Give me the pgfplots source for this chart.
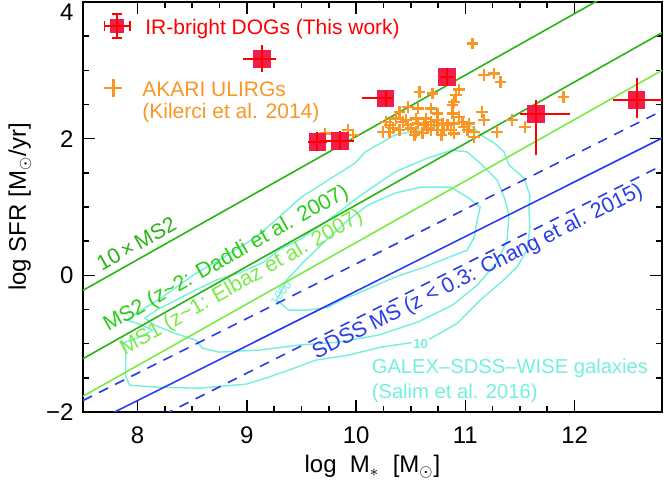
\documentclass[border=0pt]{standalone}
\usepackage{fontspec}
\setmainfont{Liberation Sans}
\usepackage{pgfplots}
\pgfplotsset{compat=1.18}
\usepackage{pgfplotstable}
\usetikzlibrary{calc}

\definecolor{dogfill}{RGB}{240,30,72}
\definecolor{dogerr}{RGB}{255,0,0}
\definecolor{ulirg}{RGB}{250,150,35}
\definecolor{contourc}{RGB}{115,240,220}
\definecolor{msgreen}{RGB}{40,180,20}
\definecolor{mstext}{RGB}{40,205,20}
\definecolor{msone}{RGB}{120,235,70}
\definecolor{sdss}{RGB}{40,60,235}

\pgfplotstableread{
x y exp exm eyp eym
9.14 3.17 0.09 0.14 0.14 0.13
10.27 2.59 0.03 0.18 0.05 0.05
10.83 2.90 0.03 0.03 0.07 0.07
9.645 1.955 0.05 0.05 0.08 0.08
9.85 1.97 0.09 0.14 0.08 0.08
11.647 2.363 0.27 0.11 0.15 0.54
12.568 2.565 0.25 0.18 0.27 0.20
}\dogs

\pgfplotstableread{
x y
10.579 2.687
10.700 2.663
10.943 2.722
10.912 2.638
10.897 2.540
10.882 2.492
10.473 2.467
10.564 2.444
10.397 2.394
10.685 2.444
10.745 2.370
10.882 2.370
10.943 2.321
11.155 2.394
11.170 2.272
10.275 2.247
10.366 2.297
10.457 2.272
10.548 2.297
10.639 2.297
10.685 2.247
10.745 2.272
10.791 2.224
10.473 2.199
10.564 2.224
10.625 2.199
10.715 2.199
10.836 2.199
10.897 2.224
10.973 2.247
11.034 2.224
10.245 2.101
10.306 2.101
10.397 2.126
10.503 2.151
10.548 2.101
10.655 2.151
10.685 2.126
10.745 2.126
10.806 2.126
10.866 2.126
10.897 2.078
10.988 2.174
11.018 2.126
11.079 2.101
10.533 2.053
9.927 2.126
9.973 2.053
9.715 2.078
11.170 2.931
11.261 2.956
11.321 2.833
11.064 3.395
11.897 2.613
11.427 2.272
11.548 2.174
11.291 2.101
11.079 2.028
10.336 2.155
10.609 2.082
10.782 2.053
10.427 2.243
10.309 2.199
}\ulirgs

\newcommand{\lfont}{\fontsize{10.5}{12}\selectfont}
\newcommand{\mfont}{\fontsize{10.7}{12}\selectfont}

\begin{document}
\begin{tikzpicture}
\begin{axis}[
  scale only axis, width=289.5pt, height=205pt,
  at={(0,0)}, anchor=south west,
  clip marker paths=true,
  xmin=7.5, xmax=12.8, ymin=-2, ymax=4,
  xtick={8,9,10,11,12}, ytick={-2,0,2,4},
  yticklabels={−2,0,2,\raisebox{-5pt}[\height][\depth]{4}},
  minor x tick num=3, minor y tick num=3,
  tick align=inside, xtick pos=both, ytick pos=both,
  xticklabel pos=lower, yticklabel pos=left,
  major tick length=6pt, minor tick length=3pt,
  every tick/.style={black, line width=0.8pt},
  axis line style={line width=1pt},
  /pgf/number format/assume math mode=true,
  tick label style={font=\fontsize{12}{14}\selectfont},
  xticklabel style={yshift=-4pt},
  yticklabel style={xshift=-1.2pt},
  label style={font=\fontsize{12}{14}\selectfont},
  xlabel={log\; M\textsubscript{$\ast$}\; [M\textsubscript{$\odot$}]},
  ylabel={log SFR [M\textsubscript{$\odot$}/yr]},
  xlabel style={at={(axis description cs:0.5,-0.134)}, anchor=center},
  ylabel style={at={(axis description cs:-0.109,0.5)}, anchor=center},
  legend style={at={(rel axis cs:0,1)}, anchor=north west, xshift=10pt, yshift=-5.5pt,
    draw=none, fill=none, inner sep=0pt, row sep=0pt, column sep=3.7pt,
    font=\lfont, cells={anchor=base west},
    nodes={inner ysep=0pt}},
]
% contours
\addplot[contourc, line width=0.7pt, forget plot] coordinates {
(7.900,-0.656) (7.991,-0.553) (8.227,-0.319) (8.536,0.032) (8.745,0.222) (9.082,0.559) (9.264,0.808) (9.500,1.145) (9.745,1.394) (9.991,1.643) (10.082,1.804) (10.355,2.053) (10.655,2.155) (10.900,2.228) (10.973,2.243) (11.064,2.170) (11.173,2.023) (11.264,1.936) (11.355,1.804) (11.400,1.613) (11.536,1.423) (11.591,1.174) (11.582,0.955) (11.591,0.706) (11.564,0.369) (11.473,0.120) (11.318,-0.114) (11.136,-0.363) (10.927,-0.700) (10.655,-0.949) (10.473,-0.993) (10.227,-1.051) (9.927,-1.168) (9.627,-1.242) (9.382,-1.388) (9.200,-1.490) (8.991,-1.593) (8.564,-1.652) (8.173,-1.637) (7.927,-1.608) (7.891,-1.476) (7.891,-1.095) (7.864,-0.993) (8.018,-0.905) (8.136,-0.802) (7.991,-0.700) (7.900,-0.656)
};
\addplot[contourc, line width=0.7pt, forget plot] coordinates {
(8.064,-0.627) (8.173,-0.509) (8.473,-0.261) (8.718,-0.070) (8.927,0.032) (9.155,0.193) (9.291,0.369) (9.473,0.515) (9.745,0.808) (10.045,1.174) (10.355,1.511) (10.655,1.716) (10.882,1.833) (11.018,1.804) (11.155,1.613) (11.291,1.394) (11.355,1.145) (11.400,0.881) (11.382,0.515) (11.291,0.193) (11.109,-0.143) (10.882,-0.436) (10.564,-0.685) (10.200,-0.876) (9.836,-0.978) (9.473,-1.022) (9.109,-1.095) (8.745,-1.124) (8.591,-1.066) (8.536,-0.949) (8.336,-0.846) (8.155,-0.729) (8.064,-0.627)
};
\addplot[contourc, line width=0.7pt, forget plot] coordinates {
(9.273,-0.363) (9.382,-0.509) (9.564,-0.509) (9.745,-0.466) (9.864,-0.363) (10.082,-0.217) (10.355,-0.026) (10.627,0.120) (10.900,0.296) (11.018,0.369) (11.082,0.559) (11.109,0.808) (11.136,0.999) (11.018,1.145) (10.864,1.291) (10.591,1.291) (10.355,1.203) (10.109,1.028) (9.927,0.808) (9.745,0.545) (9.518,0.193) (9.364,-0.070) (9.273,-0.363)
};
\node[font=\fontsize{6.5}{7}\selectfont\bfseries, text=contourc, fill=white, inner sep=0.6pt] at (axis cs:10.59,-1.00) {10};
\node[font=\fontsize{6}{7}\selectfont, text=contourc, rotate=53] at (axis cs:9.314,-0.26) {1000};

% main-sequence lines
\addplot[msgreen, line width=0.8pt, forget plot] coordinates {(7.5,-0.22) (12.8,4.55)};
\addplot[msgreen, line width=0.8pt, forget plot] coordinates {(7.5,-1.22) (12.8,3.55)};
\addplot[msone, line width=0.8pt, forget plot] coordinates {(7.5,-1.77) (12.8,3.00)};
\addplot[sdss, line width=0.8pt, forget plot] coordinates {(7.5,-2.232) (12.8,2.008)};
\addplot[sdss, line width=0.8pt, dash pattern=on 5pt off 4pt, forget plot] coordinates {(7.5,-1.832) (12.8,2.408)};
\addplot[sdss, line width=0.8pt, dash pattern=on 5pt off 4pt, forget plot] coordinates {(7.5,-2.632) (12.8,1.608)};

\node[anchor=base west, rotate=29.4, text=msgreen, font=\mfont, inner sep=0pt] at (axis cs:7.67,0.05) {10\,×\,MS2};
\node[anchor=base west, rotate=29.4, text=mstext, font=\mfont, inner sep=0pt] at (axis cs:7.73,-0.83) {MS2 (z\textasciitilde 2: Daddi et al. 2007)};
\node[anchor=base west, rotate=29.4, text=msone, font=\mfont, inner sep=0pt] at (axis cs:7.88,-1.17) {MS1 (z\textasciitilde 1: Elbaz et al. 2007)};
\node[anchor=base west, rotate=26.6, text=sdss, font=\mfont, inner sep=0pt] at (axis cs:9.636,-1.23) {SDSS MS (z < 0.3: Chang et al. 2015)};
\node[anchor=base west, text=contourc, font=\fontsize{10.1}{12}\selectfont, inner sep=0pt] at (axis cs:10.14,-1.436) {GALEX–SDSS–WISE galaxies};
\node[anchor=base west, text=contourc, font=\fontsize{10.1}{12}\selectfont, inner sep=0pt] at (axis cs:10.14,-1.80) {(Salim et al. 2016)};

% AKARI ULIRGs
\addplot[only marks, mark=+, mark size=2.9pt, mark options={draw=ulirg, line width=1.2pt}, forget plot] table[x=x, y=y] {\ulirgs};

% IR-bright DOGs
\addplot[only marks, mark=square*, mark size=4.15pt, mark options={fill=dogfill, draw=dogfill, line width=0pt}, forget plot] table[x=x, y=y] {\dogs};
\addplot[draw=none, mark=none, forget plot,
  error bars/.cd, x dir=both, x explicit, y dir=both, y explicit,
  error bar style={draw=dogerr, line width=1pt},
  error mark options={draw=dogerr, line width=1pt, mark size=2pt}]
  table[x=x, y=y, x error plus=exp, x error minus=exm, y error plus=eyp, y error minus=eym] {\dogs};

% legend
\addlegendimage{legend image code/.code={
  \fill[dogfill] (3.2pt,0.8pt) rectangle (9.6pt,7.2pt);
  \draw[dogerr, line width=0.9pt] (0pt,4pt) -- (12.8pt,4pt) (0pt,1.5pt) -- (0pt,6.5pt) (12.8pt,1.5pt) -- (12.8pt,6.5pt)
     (6.4pt,-2pt) -- (6.4pt,10pt) (4pt,10pt) -- (8.8pt,10pt) (4pt,-2pt) -- (8.8pt,-2pt);
}}
\addlegendentry{\lfont\hspace*{1.5pt}\textcolor{red}{IR-bright DOGs (This work)}\rule{0pt}{10pt}}
\addlegendimage{legend image code/.code={
  \draw[ulirg, line width=1.1pt] (0pt,4pt) -- (9pt,4pt) (4.5pt,-0.5pt) -- (4.5pt,8.5pt);
}}
\addlegendentry{\lfont\textcolor{ulirg}{AKARI ULIRGs}\rule{0pt}{28.5pt}}
\addlegendimage{empty legend}
\addlegendentry{\lfont\textcolor{ulirg}{(Kilerci et al. 2014)}\rule{0pt}{9.5pt}}
\end{axis}
\pgfresetboundingbox
\useasboundingbox ($(current axis.south west)+(-41.5pt,-38.5pt)$) rectangle ($(current axis.north east)+(1pt,1pt)$);
\end{tikzpicture}
\end{document}
